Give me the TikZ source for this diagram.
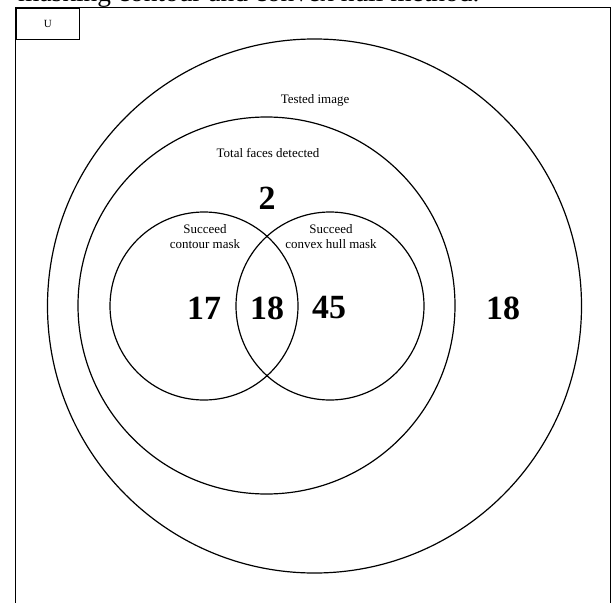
\documentclass[tikz,border=0pt]{standalone}
\usepackage{fontspec}
\setmainfont{Liberation Serif}
\begin{document}
\begin{tikzpicture}[x=1bp,y=-1bp,
  ring/.style={draw,circle,inner sep=0pt,line width=1.2pt},
  lbl/.style={inner sep=0pt,font=\fontsize{13}{15}\selectfont,align=center},
  num/.style={inner sep=0pt,font=\fontsize{34}{36}\selectfont\bfseries}]
\useasboundingbox (0,0) rectangle (614,603);
% cut-off caption
\node[inner sep=0pt,anchor=base west,font=\fontsize{27.5}{30}\selectfont] (cap) at (18,1.5) {masking contour and convex hull method.};
% frame
\coordinate (fbl) at (15.5,620);
\coordinate (ftl) at (15.5,7.5);
\coordinate (ftr) at (610.5,7.5);
\coordinate (fbr) at (610.5,620);
\draw[line width=1.2pt] (fbl) -- (ftl) -- (ftr) -- (fbr);
\node[draw,line width=1.1pt,minimum width=63.5bp,minimum height=31.5bp,inner sep=0pt,anchor=north west,font=\fontsize{11}{12}\selectfont] (U) at (15.5,7.5) {U};
% circles
\node[ring,minimum size=534bp] (tested) at (314.5,306) {};
\node[ring,minimum size=377bp] (total) at (266.5,305.5) {};
\node[ring,minimum size=188bp] (contour) at (204,306) {};
\node[ring,minimum size=188bp] (hull) at (330,306) {};
% labels
\node[lbl] (lt) at (315,100) {Tested image};
\node[lbl] (lf) at (268,153) {Total faces detected};
\node[lbl] (lc) at (205,237) {Succeed\\contour mask};
\node[lbl] (lh) at (331,237) {Succeed\\convex hull mask};
% numbers
\node[num] (n2) at (267,198) {2};
\node[num] (n17) at (204,308) {17};
\node[num] (n18) at (267,308) {18};
\node[num] (n45) at (329,308) {45};
\node[num] (nout) at (503,308) {18};
\end{tikzpicture}
\end{document}
